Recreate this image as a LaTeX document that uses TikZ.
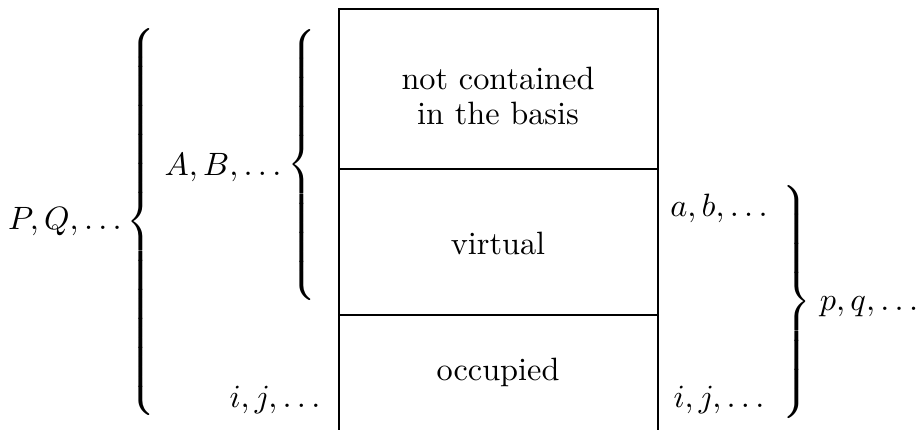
\documentclass[tikz,border=0pt]{standalone}
\usepackage{amsmath}
\usetikzlibrary{positioning}
\newcommand{\openbr}[1]{$\left\{\vcenter{\hrule height #1 width 0pt}\right.$}
\newcommand{\closebr}[1]{$\left.\vcenter{\hrule height #1 width 0pt}\right\}$}
\tikzset{brc/.style={inner sep=0pt}, lbl/.style={inner sep=0pt}}

\begin{document}
\begin{tikzpicture}[x=0.3096pt,y=-0.3096pt,semithick]
                \useasboundingbox (0,0) rectangle (921,430);
                % the box, open at the bottom
                \coordinate (bl) at (339,430);
                \coordinate (tl) at (339,9);
                \coordinate (tr) at (658,9);
                \coordinate (br) at (658,430);
                \coordinate (ml) at (339,169);
                \coordinate (mr) at (658,169);
                \coordinate (ll) at (339,315);
                \coordinate (lr) at (658,315);
                \draw (bl)--(tl)--(tr)--(br);
                \draw (ml)--(mr);
                \draw (ll)--(lr);
                \node[align=center] (notbasis) at (498,96) {not contained\\[-1pt]in the basis};
                \node (virt) at (498,243) {virtual};
                \node (occ) at (498,372) {occupied};
                % left side
                \node[brc] (bigbr) at (143,222) {\openbr{123pt}};
                \node[lbl] (PQ) at (65,222) {\(P,Q,\dots\)};
                \node[brc] (innerbr) at (304,165) {\openbr{87pt}};
                \node[lbl] (AB) at (223,168) {\(A,B,\dots\)};
                \node[lbl] (ijl) at (275,400) {\(i,j,\dots\)};
                % right side
                \node[brc] (rightbr) at (795,302) {\closebr{76pt}};
                \node[lbl] (ab) at (719,208) {\(a,b,\dots\)};
                \node[lbl] (ijr) at (719,400) {\(i,j,\dots\)};
                \node[lbl] (pq) at (869,307) {\(p,q,\dots\)};
            \end{tikzpicture}
\end{document}
